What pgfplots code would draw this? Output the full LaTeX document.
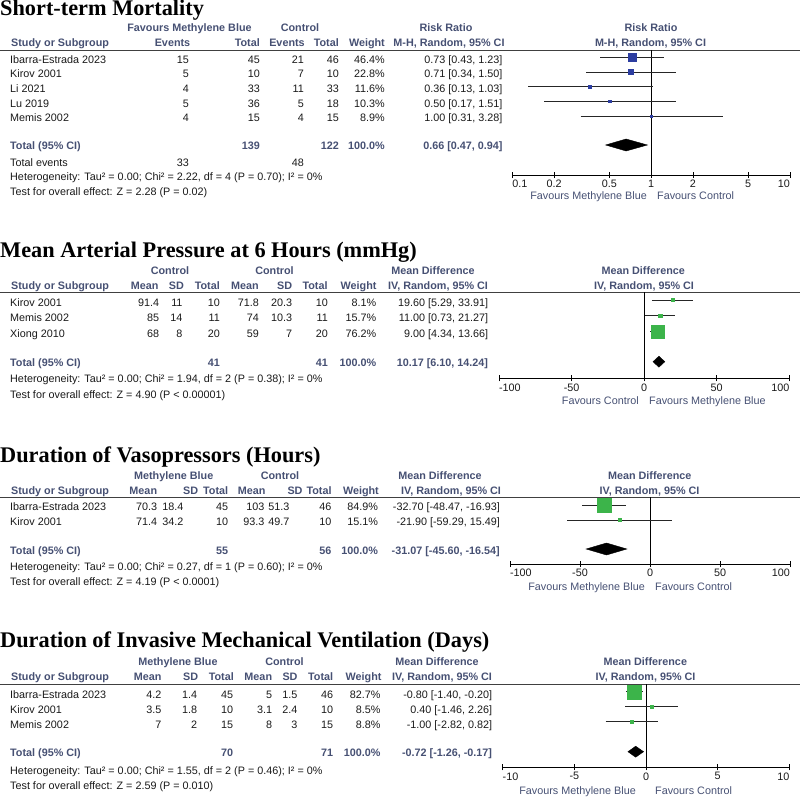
\documentclass[border=0pt]{standalone}
\usepackage{fontspec}
\setmainfont{Liberation Sans}
\newfontfamily\titlefont{Liberation Serif}
\usepackage{pgfplots}
\pgfplotsset{compat=1.18}
\definecolor{hdr}{RGB}{70,80,115}
\definecolor{sqblue}{RGB}{44,61,160}
\definecolor{sqgreen}{RGB}{60,180,74}
\definecolor{txt}{RGB}{25,25,25}
\newcommand{\fs}{\fontsize{10.8}{13}\selectfont}
\newcommand{\hd}{\bfseries\color{hdr}}
\newcommand{\TL}[3]{\node[anchor=base west,inner sep=0pt,font=\fs,text=txt] at (#1pt,-#2pt) {#3};}
\newcommand{\TR}[3]{\node[anchor=base east,inner sep=0pt,font=\fs,text=txt] at (#1pt,-#2pt) {#3};}
\newcommand{\TC}[3]{\node[anchor=base,inner sep=0pt,font=\fs,text=txt] at (#1pt,-#2pt) {#3};}
\newcommand{\TT}[2]{\node[anchor=base west,inner sep=0pt,font=\titlefont\bfseries\fontsize{22.3}{24}\selectfont] at (0pt,-#1pt) {#2};}
\newcommand{\rowC}[9]{\TL{10}{#1}{#2}\TR{\ca}{#1}{#3}\TR{\cb}{#1}{#4}\TR{\cc}{#1}{#5}\TR{\cd}{#1}{#6}\TR{\ce}{#1}{#7}\TR{\cf}{#1}{#8}\TR{\cg}{#1}{#9}}
\newcommand{\HL}[1]{\draw[line width=0.8pt,black!75] (0pt,-#1pt) -- (800pt,-#1pt);}
\pgfplotsset{forest/.style={
  scale only axis, anchor=south west, clip=false,
  axis x line*=bottom, axis y line=none,
  tick align=center, major tick length=6pt, xminorticks=false,
  every tick/.style={black,line width=0.8pt},
  axis line style={black,line width=0.8pt},
  xticklabel style={font=\fs,text=txt,inner sep=1pt,yshift=-1pt},
}}
\begin{document}
\begin{tikzpicture}
\path[use as bounding box] (0pt,0pt) rectangle (800pt,-797pt);
% ================= Panel 1 =================
\TT{16}{Short-term Mortality}
\TC{189.5}{31.7}{\hd Favours Methylene Blue}
\TC{300}{31.7}{\hd Control}
\TC{446}{31.7}{\hd Risk Ratio}
\TC{651}{31.7}{\hd Risk Ratio}
\TL{11}{46.7}{\hd Study or Subgroup}
\TC{172.5}{46.7}{\hd Events}
\TR{260}{46.7}{\hd Total}
\TC{287}{46.7}{\hd Events}
\TR{339}{46.7}{\hd Total}
\TR{385}{46.7}{\hd Weight}
\TC{449}{46.7}{\hd M-H, Random, 95\% CI}
\TC{650.5}{46.7}{\hd M-H, Random, 95\% CI}
\HL{50}
\def\ca{189}\def\cb{260}\def\cc{304}\def\cd{339}\def\ce{385}\def\cf{502.7}\def\cg{0}
\rowC{63.3}{Ibarra-Estrada 2023}{15}{45}{21}{46}{46.4\%}{0.73 [0.43, 1.23]}{}
\rowC{78}{Kirov 2001}{5}{10}{7}{10}{22.8\%}{0.71 [0.34, 1.50]}{}
\rowC{92.7}{Li 2021}{4}{33}{11}{33}{11.6\%}{0.36 [0.13, 1.03]}{}
\rowC{107.3}{Lu 2019}{5}{36}{5}{18}{10.3\%}{0.50 [0.17, 1.51]}{}
\rowC{122}{Memis 2002}{4}{15}{4}{15}{8.9\%}{1.00 [0.31, 3.28]}{}
\TL{10}{149.7}{\hd Total (95\% CI)}
\TR{260}{149.7}{\hd 139}
\TR{339}{149.7}{\hd 122}
\TR{385}{149.7}{\hd 100.0\%}
\TR{502.7}{149.7}{\hd 0.66 [0.47, 0.94]}
\TL{10}{166.3}{Total events}
\TR{189}{166.3}{33}
\TR{304}{166.3}{48}
\TL{10}{180.7}{Heterogeneity: Tau² = 0.00; Chi² = 2.22, df = 4 (P = 0.70); I² = 0\%}
\TL{10}{195.7}{Test for overall effect: Z = 2.28 (P = 0.02)}
\TR{647}{199}{\color{hdr}Favours Methylene Blue}
\TL{657}{199}{\color{hdr}Favours Control}
\begin{axis}[forest, at={(512.3pt,-175pt)}, width=277.7pt, height=125pt,
  xmode=log, xmin=0.1, xmax=10, ymin=-175, ymax=-50,
  xtick={0.1,0.2,0.5,1,2,5,10},
  xticklabels={\makebox[0pt][l]{0.1},0.2,0.5,1,2,5,\makebox[0pt][r]{10}}]
\addplot[black,line width=0.7pt] coordinates {(1,-50) (1,-175)};
\addplot[black!85,line width=0.7pt] coordinates {(0.43,-57.3) (1.23,-57.3)};
\addplot[black!85,line width=0.7pt] coordinates {(0.34,-72) (1.50,-72)};
\addplot[black!85,line width=0.7pt] coordinates {(0.13,-86.7) (1.03,-86.7)};
\addplot[black!85,line width=0.7pt] coordinates {(0.17,-101.3) (1.51,-101.3)};
\addplot[black!85,line width=0.7pt] coordinates {(0.31,-116) (3.28,-116)};
\addplot[only marks,mark=square*,color=sqblue,mark size=4pt] coordinates {(0.73,-57.3)};
\addplot[only marks,mark=square*,color=sqblue,mark size=2.6pt] coordinates {(0.71,-72)};
\addplot[only marks,mark=square*,color=sqblue,mark size=1.7pt] coordinates {(0.36,-86.7)};
\addplot[only marks,mark=square*,color=sqblue,mark size=1.4pt] coordinates {(0.50,-101.3)};
\addplot[only marks,mark=square*,color=sqblue,mark size=1.2pt] coordinates {(1.00,-116)};
\addplot[fill=black,draw=black] coordinates {(0.47,-145) (0.66,-139) (0.94,-145) (0.66,-151)} -- cycle;
\end{axis}
% ================= Panel 2 =================
\TT{257}{Mean Arterial Pressure at 6 Hours (mmHg)}
\TC{170}{274}{\hd Control}
\TC{274.5}{274}{\hd Control}
\TC{433}{274}{\hd Mean Difference}
\TC{643.3}{274}{\hd Mean Difference}
\TL{11}{289}{\hd Study or Subgroup}
\TR{158.7}{289}{\hd Mean}
\TR{184}{289}{\hd SD}
\TR{220}{289}{\hd Total}
\TR{259}{289}{\hd Mean}
\TR{292.3}{289}{\hd SD}
\TR{327.7}{289}{\hd Total}
\TR{376.7}{289}{\hd Weight}
\TC{438}{289}{\hd IV, Random, 95\% CI}
\TC{644}{289}{\hd IV, Random, 95\% CI}
\HL{292.3}
\def\ca{159.3}\def\cb{182.7}\def\cc{220}\def\cd{259}\def\ce{292.3}\def\cf{328}\def\cg{376.5}
\rowC{306.3}{Kirov 2001}{91.4}{11}{10}{71.8}{20.3}{10}{8.1\%}
\TR{488.3}{306.3}{19.60 [5.29, 33.91]}
\rowC{321.7}{Memis 2002}{85}{14}{11}{74}{10.3}{11}{15.7\%}
\TR{488.3}{321.7}{11.00 [0.73, 21.27]}
\rowC{337.3}{Xiong 2010}{68}{8}{20}{59}{7}{20}{76.2\%}
\TR{488.3}{337.3}{9.00 [4.34, 13.66]}
\TL{10}{366.3}{\hd Total (95\% CI)}
\TR{220}{366.3}{\hd 41}
\TR{328}{366.3}{\hd 41}
\TR{376.5}{366.3}{\hd 100.0\%}
\TR{488.3}{366.3}{\hd 10.17 [6.10, 14.24]}
\TL{10}{382}{Heterogeneity: Tau² = 0.00; Chi² = 1.94, df = 2 (P = 0.38); I² = 0\%}
\TL{10}{398.5}{Test for overall effect: Z = 4.90 (P < 0.00001)}
\TR{639}{404.7}{\color{hdr}Favours Control}
\TL{649}{404.7}{\color{hdr}Favours Methylene Blue}
\begin{axis}[forest, at={(499pt,-378.3pt)}, width=290.3pt, height=86pt,
  xmin=-100, xmax=100, ymin=-378.3, ymax=-292.3,
  xtick={-100,-50,0,50,100},
  xticklabels={\makebox[0pt][l]{-100},-50,0,50,\makebox[0pt][r]{100}}]
\addplot[black,line width=0.7pt] coordinates {(0,-292.3) (0,-378.3)};
\addplot[black!85,line width=0.7pt] coordinates {(5.29,-300) (33.91,-300)};
\addplot[black!85,line width=0.7pt] coordinates {(0.73,-315.7) (21.27,-315.7)};
\addplot[black!85,line width=0.7pt] coordinates {(4.34,-331.7) (13.66,-331.7)};
\addplot[only marks,mark=square*,color=sqgreen,mark size=1.3pt] coordinates {(19.60,-300)};
\addplot[only marks,mark=square*,color=sqgreen,mark size=1.9pt] coordinates {(11.00,-315.7)};
\addplot[only marks,mark=square*,color=sqgreen,mark size=6.5pt] coordinates {(9.00,-331.7)};
\addplot[fill=black,draw=black] coordinates {(6.10,-361.7) (10.17,-356.2) (14.24,-361.7) (10.17,-367.2)} -- cycle;
\end{axis}
% ================= Panel 3 =================
\TT{462}{Duration of Vasopressors (Hours)}
\TC{173.7}{479.7}{\hd Methylene Blue}
\TC{280}{479.7}{\hd Control}
\TC{440}{479.7}{\hd Mean Difference}
\TC{649.8}{479.7}{\hd Mean Difference}
\TL{11}{494}{\hd Study or Subgroup}
\TR{157.3}{494}{\hd Mean}
\TR{198.3}{494}{\hd SD}
\TR{228.3}{494}{\hd Total}
\TR{265.7}{494}{\hd Mean}
\TR{302.7}{494}{\hd SD}
\TR{331.7}{494}{\hd Total}
\TR{379}{494}{\hd Weight}
\TC{451}{494}{\hd IV, Random, 95\% CI}
\TC{649.5}{494}{\hd IV, Random, 95\% CI}
\HL{497.3}
\def\ca{157.3}\def\cb{183.5}\def\cc{228.3}\def\cd{264.5}\def\ce{289.5}\def\cf{331.7}\def\cg{378.3}
\rowC{510.7}{Ibarra-Estrada 2023}{70.3}{18.4}{45}{103}{51.3}{46}{84.9\%}
\TR{500}{510.7}{-32.70 [-48.47, -16.93]}
\rowC{525.7}{Kirov 2001}{71.4}{34.2}{10}{93.3}{49.7}{10}{15.1\%}
\TR{500}{525.7}{-21.90 [-59.29, 15.49]}
\TL{10}{554}{\hd Total (95\% CI)}
\TR{228.3}{554}{\hd 55}
\TR{331.7}{554}{\hd 56}
\TR{378.3}{554}{\hd 100.0\%}
\TR{500}{554}{\hd -31.07 [-45.60, -16.54]}
\TL{10}{570}{Heterogeneity: Tau² = 0.00; Chi² = 0.27, df = 1 (P = 0.60); I² = 0\%}
\TL{10}{585.7}{Test for overall effect: Z = 4.19 (P < 0.0001)}
\TR{645}{590.7}{\color{hdr}Favours Methylene Blue}
\TL{655}{590.7}{\color{hdr}Favours Control}
\begin{axis}[forest, at={(510pt,-564pt)}, width=280pt, height=66.7pt,
  xmin=-100, xmax=100, ymin=-564, ymax=-497.3,
  xtick={-100,-50,0,50,100},
  xticklabels={\makebox[0pt][l]{-100},-50,0,50,\makebox[0pt][r]{100}}]
\addplot[black,line width=0.7pt] coordinates {(0,-497.3) (0,-564)};
\addplot[black!85,line width=0.7pt] coordinates {(-48.47,-505) (-16.93,-505)};
\addplot[black!85,line width=0.7pt] coordinates {(-59.29,-520) (15.49,-520)};
\addplot[only marks,mark=square*,color=sqgreen,mark size=6.8pt] coordinates {(-32.70,-505)};
\addplot[only marks,mark=square*,color=sqgreen,mark size=1.5pt] coordinates {(-21.90,-520)};
\addplot[fill=black,draw=black] coordinates {(-45.60,-549) (-31.07,-543) (-16.54,-549) (-31.07,-555)} -- cycle;
\end{axis}
% ================= Panel 4 =================
\TT{647}{Duration of Invasive Mechanical Ventilation (Days)}
\TC{178}{665}{\hd Methylene Blue}
\TC{284.5}{665}{\hd Control}
\TC{437}{665}{\hd Mean Difference}
\TC{645.3}{665}{\hd Mean Difference}
\TL{11}{680.7}{\hd Study or Subgroup}
\TR{161.7}{680.7}{\hd Mean}
\TR{198.3}{680.7}{\hd SD}
\TR{234}{680.7}{\hd Total}
\TR{272.3}{680.7}{\hd Mean}
\TR{297.7}{680.7}{\hd SD}
\TR{333.3}{680.7}{\hd Total}
\TR{381.7}{680.7}{\hd Weight}
\TC{442}{680.7}{\hd IV, Random, 95\% CI}
\TC{645.5}{680.7}{\hd IV, Random, 95\% CI}
\HL{684}
\def\ca{161.7}\def\cb{197.3}\def\cc{233.3}\def\cd{272.3}\def\ce{297.7}\def\cf{333.3}\def\cg{380.7}
\rowC{698}{Ibarra-Estrada 2023}{4.2}{1.4}{45}{5}{1.5}{46}{82.7\%}
\TR{492.3}{698}{-0.80 [-1.40, -0.20]}
\rowC{713}{Kirov 2001}{3.5}{1.8}{10}{3.1}{2.4}{10}{8.5\%}
\TR{492.3}{713}{0.40 [-1.46, 2.26]}
\rowC{728}{Memis 2002}{7}{2}{15}{8}{3}{15}{8.8\%}
\TR{492.3}{728}{-1.00 [-2.82, 0.82]}
\TL{10}{756.3}{\hd Total (95\% CI)}
\TR{233.3}{756.3}{\hd 70}
\TR{333.3}{756.3}{\hd 71}
\TR{380.7}{756.3}{\hd 100.0\%}
\TR{492.3}{756.3}{\hd -0.72 [-1.26, -0.17]}
\TL{10}{774}{Heterogeneity: Tau² = 0.00; Chi² = 1.55, df = 2 (P = 0.46); I² = 0\%}
\TL{10}{789}{Test for overall effect: Z = 2.59 (P = 0.010)}
\TR{636}{794}{\color{hdr}Favours Methylene Blue}
\TL{655}{794}{\color{hdr}Favours Control}
\begin{axis}[forest, at={(502.7pt,-767.3pt)}, width=286.6pt, height=83.3pt,
  xmin=-10, xmax=10, ymin=-767.3, ymax=-684,
  xtick={-10,-5,0,5,10},
  xticklabels={\makebox[0pt][l]{-10},-5,0,5,\makebox[0pt][r]{10}}]
\addplot[black,line width=0.7pt] coordinates {(0,-684) (0,-767.3)};
\addplot[black!85,line width=0.7pt] coordinates {(-1.40,-691.7) (-0.20,-691.7)};
\addplot[black!85,line width=0.7pt] coordinates {(-1.46,-706.7) (2.26,-706.7)};
\addplot[black!85,line width=0.7pt] coordinates {(-2.82,-721.7) (0.82,-721.7)};
\addplot[only marks,mark=square*,color=sqgreen,mark size=7pt] coordinates {(-0.80,-691.7)};
\addplot[only marks,mark=square*,color=sqgreen,mark size=1.3pt] coordinates {(0.40,-706.7)};
\addplot[only marks,mark=square*,color=sqgreen,mark size=1.5pt] coordinates {(-1.00,-721.7)};
\addplot[fill=black,draw=black] coordinates {(-1.26,-751.7) (-0.72,-746.2) (-0.17,-751.7) (-0.72,-757.2)} -- cycle;
\end{axis}
\end{tikzpicture}
\end{document}
